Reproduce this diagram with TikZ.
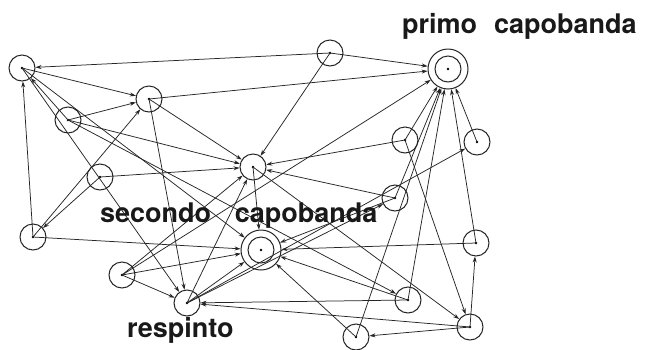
\documentclass[tikz,border=0pt]{standalone}
\usepackage{fontspec}
\setmainfont{TeX Gyre Heros}
\usetikzlibrary{arrows.meta}
\begin{document}
\begin{tikzpicture}[x=1pt,y=-1pt,
  pers/.style={circle,draw=black!85,line width=1pt,minimum size=26pt,inner sep=0pt},
  capo/.style={circle,draw=black!85,line width=1pt,minimum size=40pt,inner sep=0pt},
  rel/.style={draw=black!85,line width=0.75pt,-{Stealth[length=6pt,width=4pt]}},
  lbl/.style={font=\fontsize{27}{27}\selectfont\bfseries,anchor=base west,inner sep=0pt,text=black!90}]
\useasboundingbox[fill=white] (0,0) rectangle (646,349);
% persons
\node[pers] (A) at (22,68) {};
\node[pers] (B) at (149,99) {};
\node[pers] (C) at (68,120) {};
\node[pers] (D) at (100,177) {};
\node[pers] (L) at (33,237) {};
\node[pers] (E) at (330,53) {};
\node[capo] (F) at (448,69) {};
\node[pers] (G) at (253,167) {};
\node[pers] (H) at (405,140) {};
\node[pers] (I) at (477,142) {};
\node[pers] (J) at (395,198) {};
\node[capo] (K) at (261,250) {};
\node[pers] (M) at (122,275) {};
\node[pers] (N) at (187,303) {};
\node[pers] (O) at (408,300) {};
\node[pers] (P) at (356,337) {};
\node[pers] (Q) at (476,243) {};
\node[pers] (R) at (470,327) {};
\draw[black!85,line width=1pt] (F.center) circle (13pt);
\draw[black!85,line width=1pt] (K.center) circle (13pt);
\foreach \n in {A,B,C,D,L,E,F,G,H,I,J,K,M,N,O,P,Q,R} {\fill[black] (\n.center) circle (1.4pt);}
% relations
\foreach \s/\t in {E/A,E/F,A/B,C/B,L/B,L/A,D/L,C/A,A/N,A/K,B/F,B/G,B/N,C/G,D/G,C/O,
  L/K,M/K,M/N,M/F,M/G,N/G,N/K,N/J,N/I,O/N,R/N,E/G,G/K,G/R,H/G,J/G,J/K,Q/K,O/K,P/K,
  R/P,R/Q,H/R,H/F,J/F,P/F,O/F,Q/F,I/F}
  {\draw[rel] (\s.center) -- (\t);}
% labels
\node[lbl] (t1) at (402,33) {primo\hspace{0.35em} capobanda};
\node[lbl] (t2) at (100,222) {secondo\hspace{0.6em} capobanda};
\node[lbl] (t3) at (127,337) {respinto};
\end{tikzpicture}
\end{document}
